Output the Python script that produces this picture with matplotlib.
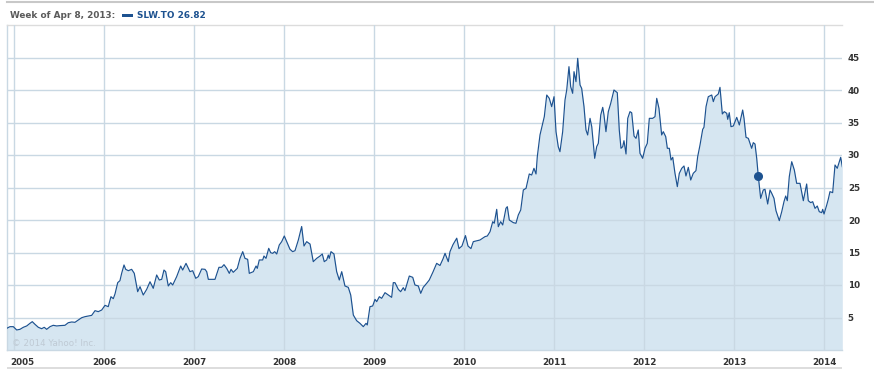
# Third-party imports
import matplotlib
matplotlib.use("Agg")
import matplotlib.pyplot as plt
import matplotlib.transforms as mtransforms
from matplotlib.patches import Rectangle
from matplotlib.lines import Line2D

# Weekly close of SLW.TO (decimal year, price)
t = [
    2004.916, 2004.952, 2004.989, 2005.027, 2005.063, 2005.100, 2005.138, 2005.174,
    2005.200, 2005.230, 2005.267, 2005.304, 2005.333, 2005.360, 2005.397, 2005.433,
    2005.471, 2005.508, 2005.563, 2005.600, 2005.638, 2005.674, 2005.711, 2005.749,
    2005.786, 2005.822, 2005.860, 2005.897, 2005.933, 2005.971, 2006.008, 2006.044,
    2006.074, 2006.100, 2006.119, 2006.149, 2006.174, 2006.193, 2006.219, 2006.238,
    2006.267, 2006.304, 2006.333, 2006.371, 2006.397, 2006.433, 2006.471,
    2006.508, 2006.544, 2006.582, 2006.611, 2006.638, 2006.663, 2006.682, 2006.711,
    2006.738, 2006.760, 2006.804, 2006.849, 2006.871, 2006.908, 2006.952, 2006.982,
    2007.016, 2007.044, 2007.082, 2007.119, 2007.138, 2007.156, 2007.230, 2007.274,
    2007.304, 2007.330, 2007.360, 2007.389, 2007.408, 2007.433, 2007.478, 2007.508,
    2007.538, 2007.563, 2007.593, 2007.611, 2007.656, 2007.686, 2007.700, 2007.722,
    2007.760, 2007.774, 2007.797, 2007.827, 2007.849, 2007.871, 2007.893, 2007.916,
    2007.944, 2007.971, 2008.000, 2008.027,
    2008.063, 2008.093, 2008.119, 2008.156, 2008.193, 2008.219, 2008.249, 2008.286,
    2008.322, 2008.360, 2008.397, 2008.422, 2008.444, 2008.471, 2008.489, 2008.500,
    2008.519, 2008.552, 2008.582, 2008.611, 2008.638, 2008.674, 2008.711, 2008.738,
    2008.767, 2008.804, 2008.841, 2008.878, 2008.908, 2008.922, 2008.952, 2008.982,
    2009.008, 2009.027, 2009.056, 2009.082, 2009.119, 2009.156, 2009.193, 2009.211,
    2009.230, 2009.267, 2009.293, 2009.322, 2009.341, 2009.360, 2009.389, 2009.427,
    2009.452, 2009.489, 2009.516, 2009.544, 2009.582, 2009.611,
    2009.652, 2009.693, 2009.730, 2009.763, 2009.786, 2009.822, 2009.841, 2009.874,
    2009.916, 2009.941, 2009.974, 2010.013, 2010.041, 2010.074, 2010.100,
    2010.174, 2010.230, 2010.256, 2010.286, 2010.316, 2010.333, 2010.360, 2010.378,
    2010.404, 2010.427, 2010.463, 2010.478, 2010.500, 2010.544, 2010.574, 2010.600,
    2010.627, 2010.656, 2010.686, 2010.722, 2010.749, 2010.774, 2010.797, 2010.811,
    2010.841, 2010.871, 2010.889, 2010.916, 2010.944, 2010.971, 2010.997, 2011.019,
    2011.044, 2011.063,
    2011.093, 2011.119, 2011.138, 2011.163, 2011.182, 2011.204, 2011.219, 2011.241,
    2011.260, 2011.286, 2011.304, 2011.330, 2011.352, 2011.371, 2011.397, 2011.416,
    2011.449, 2011.471, 2011.489, 2011.516, 2011.538, 2011.552, 2011.574, 2011.600,
    2011.627, 2011.663, 2011.700, 2011.722, 2011.741, 2011.760, 2011.774, 2011.797,
    2011.816, 2011.841, 2011.860, 2011.886, 2011.908, 2011.933, 2011.952, 2011.982,
    2012.008, 2012.033, 2012.056, 2012.093, 2012.119, 2012.138, 2012.163, 2012.193,
    2012.211, 2012.238, 2012.256, 2012.278, 2012.297, 2012.316, 2012.341, 2012.367,
    2012.389, 2012.416, 2012.441, 2012.463, 2012.489, 2012.516, 2012.544, 2012.574,
    2012.593,
    2012.619, 2012.649, 2012.663, 2012.686, 2012.711, 2012.749, 2012.767, 2012.786,
    2012.822, 2012.841, 2012.867, 2012.889, 2012.916, 2012.927, 2012.944, 2012.963,
    2012.989, 2013.027, 2013.056, 2013.093, 2013.108, 2013.130, 2013.156, 2013.193,
    2013.211, 2013.230, 2013.249, 2013.266, 2013.293, 2013.322, 2013.341, 2013.371,
    2013.397, 2013.416, 2013.441, 2013.463, 2013.500, 2013.527, 2013.552, 2013.571,
    2013.589, 2013.611, 2013.638, 2013.667, 2013.693, 2013.730, 2013.767, 2013.804,
    2013.822, 2013.849, 2013.871, 2013.897, 2013.922, 2013.944, 2013.971, 2013.982,
    2013.997, 2014.027, 2014.044, 2014.063, 2014.093, 2014.119, 2014.144, 2014.167,
    2014.182, 2014.200,
]
price = [
    3.33, 3.59, 3.59, 3.08, 3.18, 3.49, 3.70, 4.10,
    4.36, 3.95, 3.49, 3.28, 3.49, 3.18, 3.59, 3.80,
    3.70, 3.75, 3.80, 4.20, 4.31, 4.26, 4.62, 4.97,
    5.13, 5.23, 5.33, 6.05, 5.90, 6.15, 6.87, 6.67,
    8.20, 7.90, 8.62, 10.36, 10.67, 11.80, 13.08, 12.41,
    12.20, 12.41, 11.80, 8.97, 9.74, 8.46, 9.33,
    10.50, 9.49, 11.54, 10.77, 10.87, 12.30, 12.05, 9.85,
    10.36, 10.00, 11.28, 12.92, 12.30, 13.33, 12.05, 12.20,
    11.03, 11.28, 12.46, 12.41, 12.05, 10.87, 10.87, 12.72,
    12.72, 13.13, 12.56, 11.79, 12.41, 11.95, 12.56, 14.10,
    15.13, 14.10, 13.95, 11.79, 12.05, 12.92, 12.56, 13.85,
    13.85, 14.46, 14.10, 15.64, 14.97, 14.87, 15.13, 14.77,
    16.15, 16.67, 17.54, 16.67,
    15.50, 15.13, 15.28, 16.92, 19.00, 16.00, 16.67, 16.30,
    13.59, 14.10, 14.46, 14.77, 13.59, 13.85, 14.61, 14.10,
    15.13, 14.77, 12.05, 10.77, 12.05, 9.85, 9.64, 8.46,
    5.38, 4.51, 4.10, 3.59, 4.10, 3.85, 6.67, 6.77,
    7.79, 7.44, 8.20, 7.95, 8.82, 8.46, 8.10, 10.36,
    10.36, 9.33, 8.97, 9.59, 9.13, 10.00, 11.38, 11.18,
    10.00, 9.85, 8.72, 9.64, 10.26, 10.77,
    12.00, 13.33, 13.00, 14.00, 14.87, 13.59, 15.13, 16.20,
    17.20, 15.60, 16.00, 17.60, 16.00, 15.60, 16.67,
    16.92, 17.44, 17.54, 18.20, 19.74, 19.50, 21.64, 18.97,
    19.74, 19.23, 21.80, 22.05, 20.00, 19.60, 19.49, 20.77,
    21.54, 24.62, 24.87, 27.08, 26.92, 27.95, 27.08, 29.74,
    33.08, 34.87, 35.90, 39.23, 38.72, 37.44, 38.97, 33.59,
    31.28, 30.51,
    33.59, 38.46, 40.00, 43.59, 40.51, 39.49, 42.82, 41.28,
    44.87, 40.77, 40.26, 37.44, 33.85, 33.08, 35.64, 34.36,
    29.49, 31.28, 31.79, 36.15, 37.33, 36.15, 33.59, 36.67,
    37.95, 40.00, 39.59, 33.85, 31.03, 31.28, 32.20, 30.15,
    35.64, 36.67, 36.50, 32.92, 32.56, 33.85, 30.26, 29.49,
    31.03, 31.79, 35.64, 35.64, 35.90, 38.72, 37.18, 33.08,
    33.59, 32.82, 31.03, 31.03, 29.23, 29.64, 27.18, 25.13,
    27.18, 27.95, 28.31, 26.77, 28.10, 26.15, 27.18, 27.59,
    29.74,
    31.54, 33.95, 34.26, 37.44, 38.97, 39.23, 38.21, 38.97,
    39.38, 40.41, 36.31, 36.67, 36.41, 35.49, 36.51, 34.36,
    34.46, 35.79, 34.62, 36.92, 35.64, 32.72, 32.56, 31.03,
    31.90, 31.69, 29.49, 26.82, 23.33, 24.62, 24.72, 22.46,
    24.62, 24.10, 23.33, 21.44, 19.90, 21.28, 22.82, 23.69,
    22.97, 26.67, 28.97, 27.69, 25.64, 25.64, 22.97, 25.54,
    22.97, 22.67, 22.82, 21.79, 22.15, 21.28, 21.13, 21.64,
    20.92, 22.31, 23.18, 24.36, 24.21, 28.46, 27.95, 28.97,
    29.64, 28.20,
]

# Highlighted week
sel_t = 2013.266
sel_price = 26.82
years = list(range(2005, 2015))
y_ticks = [5, 10, 15, 20, 25, 30, 35, 40, 45]

# Colors
line_color = "#1d5290"
fill_color = "#d6e6f1"
grid_color = "#c9d8e3"

# Figure
W, H = 874, 369
fig = plt.figure(figsize=(W / 100, H / 100), dpi=100)
ax = fig.add_axes([7 / W, 19 / H, (842.3 - 7) / W, (350 - 25) / H])

ax.fill_between(t, price, 0, color=fill_color, lw=0, zorder=1)
ax.plot(t, price, "-", color=line_color, lw=0.85, zorder=3)
ax.plot([sel_t], [sel_price], "o", color=line_color, ms=5.5, zorder=4)

ax.set_xlim(2004.919, 2014.2)
ax.set_ylim(0, 50)

# Grid
ax.set_axisbelow(False)
ax.set_xticks(years)
ax.set_yticks(y_ticks)
ax.grid(True, color=grid_color, lw=1.0)
for gl in ax.get_xgridlines() + ax.get_ygridlines():
    gl.set_zorder(2)

# Ticks
ax.yaxis.tick_right()
ax.tick_params(axis="both", length=0, labelsize=6.3, labelcolor="#333333")
ax.tick_params(axis="y", pad=4)
ax.tick_params(axis="x", pad=5.5)
ax.set_xticklabels([str(y) for y in years], fontweight="bold")
ax.set_yticklabels([str(v) for v in y_ticks], fontweight="bold")
first = ax.get_xticklabels()[0]
first.set_ha("left")
first.set_transform(first.get_transform() +
                    mtransforms.ScaledTranslation(-4 / 100, 0, fig.dpi_scale_trans))

# Spines
ax.spines["right"].set_visible(False)
ax.spines["top"].set_color("#dcdcdc")
ax.spines["left"].set_color(grid_color)
ax.spines["bottom"].set_color(grid_color)
for s in ax.spines.values():
    s.set_linewidth(1.0)

# Copyright
ax.text(2004.975, 1.0, "\u00a9 2014 Yahoo! Inc.", fontsize=6.3,
        color="#bfcad4", ha="left", va="center")

# Header
fig.add_artist(Line2D([7 / W, 1.0], [1 - 1.5 / H, 1 - 1.5 / H],
                      color="#c8c8c8", lw=1.5))
fig.text(10 / W, 1 - 15.5 / H, "Week of Apr 8, 2013:", fontsize=6.4,
         fontweight="bold", color="#5a5a5a", ha="left", va="center")
fig.add_artist(Rectangle((122 / W, 1 - 17 / H), 11 / W, 3.5 / H,
                         color=line_color, lw=0))
fig.text(137 / W, 1 - 15.5 / H, "SLW.TO 26.82", fontsize=6.4,
         fontweight="bold", color=line_color, ha="left", va="center")

# Bottom bar
fig.add_artist(Rectangle((7 / W, 0), (842.3 - 7) / W, 2.5 / H,
                         color="#dddddd", lw=0))

plt.savefig("out.png", dpi=100)
